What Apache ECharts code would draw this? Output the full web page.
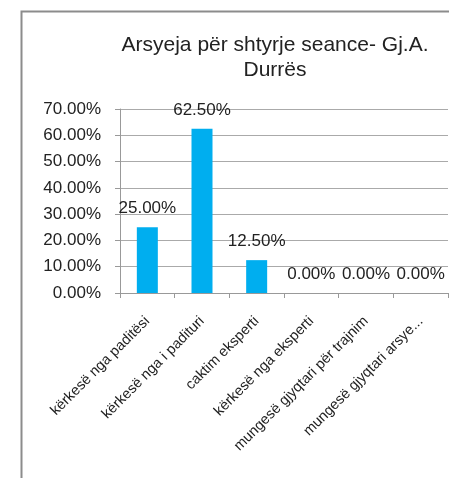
<!DOCTYPE html>
<html>
<head>
<meta charset="utf-8">
<script src="https://cdn.jsdelivr.net/npm/echarts@6/dist/echarts.min.js"></script>
<style>
  html, body { margin: 0; padding: 0; background: #fff; }
  #chart { width: 449px; height: 478px; }
</style>
</head>
<body>
<div id="chart"></div>
<script>
var categories = ['kërkesë nga paditësi', 'kërkesë nga i padituri', 'caktim eksperti',
  'kërkesë nga eksperti', 'mungesë gjyqtari për trajnim', 'mungesë gjyqtari arsye...'];
var values = [25, 62.5, 12.5, 0, 0, 0];
var yTicks = [0, 10, 20, 30, 40, 50, 60, 70];

var myChart = echarts.init(document.getElementById('chart'));
myChart.setOption({
  animation: false,
  textStyle: { fontFamily: 'Liberation Sans, Arial, sans-serif' },
  graphic: [{
    type: 'polyline',
    shape: { points: [[21.5, 478], [21.5, 11.5], [449, 11.5]] },
    style: { stroke: '#8c8c8c', lineWidth: 2, fill: null }
  }],
  title: {
    text: 'Arsyeja për shtyrje seance- Gj.A.\nDurrës',
    left: 270,
    top: 28,
    textAlign: 'center',
    textStyle: { fontSize: 21, fontWeight: 'normal', color: '#222', lineHeight: 25 }
  },
  grid: { left: 120, right: 1, top: 109, bottom: 185 },
  xAxis: {
    type: 'category',
    data: categories,
    axisLine: { lineStyle: { color: '#999' } },
    axisTick: { show: true, length: 5, lineStyle: { color: '#999' } },
    axisLabel: { rotate: 45, fontSize: 14.5, color: '#222', margin: 26, interval: 0 }
  },
  yAxis: {
    type: 'value',
    min: yTicks[0],
    max: yTicks[yTicks.length - 1],
    interval: 10,
    axisLine: { show: true, lineStyle: { color: '#999' } },
    axisTick: { show: true, length: 5, lineStyle: { color: '#999' } },
    splitLine: { lineStyle: { color: '#aaa' } },
    axisLabel: {
      fontSize: 17, color: '#222', margin: 19,
      formatter: function (v) { return v.toFixed(2) + '%'; }
    }
  },
  series: [{
    type: 'bar',
    data: values,
    barWidth: 21,
    itemStyle: { color: '#00aeef' },
    label: {
      show: true,
      position: 'top',
      distance: 10,
      fontSize: 17,
      color: '#222',
      formatter: function (p) { return p.value.toFixed(2) + '%'; }
    }
  }]
});
</script>
</body>
</html>
